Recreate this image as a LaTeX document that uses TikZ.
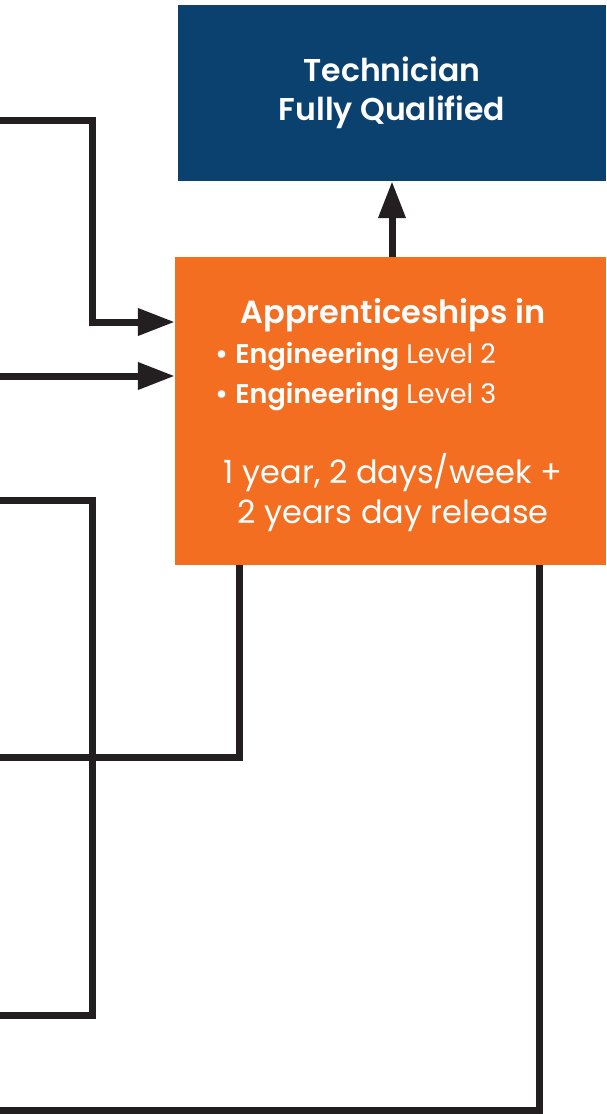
\documentclass[tikz,border=0pt]{standalone}
\usepackage{fontspec}
\setmainfont{Poppins}[BoldFont={Poppins SemiBold}]
\usetikzlibrary{arrows.meta}
\definecolor{qualblue}{RGB}{11,65,111}
\definecolor{apprange}{RGB}{244,110,34}
\definecolor{linedark}{RGB}{35,31,32}

\begin{document}
\begin{tikzpicture}[x=1pt,y=-1pt,>={Triangle[length=37pt,width=26pt]},
  link/.style={draw=linedark,line width=7pt},
  box/.style={inner sep=0pt,text=white,align=center}]
  \useasboundingbox (0,0) rectangle (606,1114);
  % boxes
  \node[box,fill=qualblue,minimum width=428pt,minimum height=176pt,
    font=\bfseries\fontsize{31.5}{39}\selectfont] (qual) at (392,93)
    {Technician\\Fully Qualified};
  \node[box,fill=apprange,minimum width=431pt,minimum height=308pt] (appr) at (390.5,411) {};
  \node[text=white,anchor=base,font=\bfseries\fontsize{32}{36}\selectfont] (apprhead) at (393,323) {Apprenticeships in};
  \node[text=white,anchor=base west,inner sep=0pt,font=\fontsize{27}{30}\selectfont] (lvltwo) at (215,363)
    {\textbf{•} \textbf{Engineering} Level 2};
  \node[text=white,anchor=base west,inner sep=0pt,font=\fontsize{27}{30}\selectfont] (lvlthree) at (215,403)
    {\textbf{•} \textbf{Engineering} Level 3};
  \node[text=white,anchor=base,font=\fontsize{32}{40}\selectfont] (durone) at (393,483) {1 year, 2 days/week +};
  \node[text=white,anchor=base,font=\fontsize{32}{40}\selectfont] (durtwo) at (393,523) {2 years day release};
  % free ends on the left
  \coordinate (inone) at (0,120);
  \coordinate (intwo) at (0,376);
  \coordinate (loopa) at (0,500);
  \coordinate (loopb) at (0,1015);
  \coordinate (outone) at (0,757);
  \coordinate (outtwo) at (0,1110);
  % connectors
  \draw[link,->] (qual.south |- appr.north) -- (qual.south);
  \draw[link,->] (inone) -- ++(92,0) |- ([yshift=89pt]appr.west);
  \draw[link,->] (intwo) -- ([yshift=35pt]appr.west);
  \draw[link] (loopa) -- ++(92,0) |- (loopb);
  \draw[link] ([xshift=65pt]appr.south west) |- (outone);
  \draw[link] ([xshift=365pt]appr.south west) |- (outtwo);
\end{tikzpicture}
\end{document}
